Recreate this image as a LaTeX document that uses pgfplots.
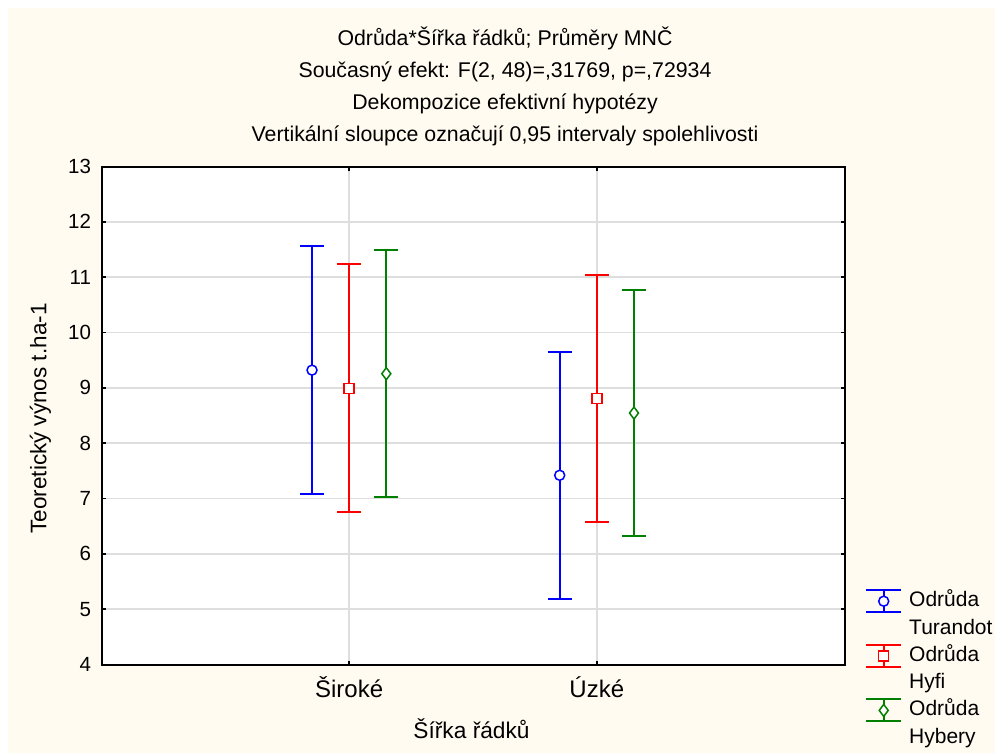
\documentclass[border=0pt]{standalone}
\usepackage{pgfplots}
\pgfplotsset{compat=1.18}
\usepackage{fontspec}
\setmainfont{Liberation Sans}
\definecolor{cream}{RGB}{255,251,240}
\definecolor{gridgray}{RGB}{222,222,222}
\definecolor{dgreen}{RGB}{0,128,0}
\begin{document}
\begin{tikzpicture}
\useasboundingbox (0bp,0bp) rectangle (995bp,-753bp);
\fill[white] (0bp,0bp) rectangle (995bp,-753bp);
\fill[cream] (8bp,-8bp) rectangle (995bp,-753bp);
\begin{scope}
\clip (0bp,0bp) rectangle (995bp,-753bp);
\begin{axis}[
  at={(101.5bp,-664.5bp)}, anchor=south west,
  scale only axis, width=743bp, height=498bp,
  xmin=0, xmax=3, ymin=4, ymax=13,
  xtick={1,2}, xticklabels={Široké,Úzké},
  ytick={4,5,...,13},
  axis background/.style={fill=white},
  axis line style={black, line width=2bp},
  grid=major, grid style={gridgray, line width=1.5bp},
  tick align=inside, major tick length=4bp,
  tick style={black, line width=1.5bp},
  /pgf/number format/assume math mode=true,
  yticklabel style={font=\fontsize{20.5bp}{24bp}\selectfont, anchor=east, xshift=-7bp},
  xticklabel style={font=\fontsize{24bp}{28bp}\selectfont, anchor=base, yshift=-32.5bp},
  xlabel={Šířka řádků},
  xlabel style={at={(axis description cs:0.498,0)}, anchor=base, yshift=-73.5bp, font=\fontsize{22.7bp}{26bp}\selectfont},
  ylabel={Teoretický výnos t.ha-1},
  ylabel style={at={(axis description cs:-0.0741,0.494)}, anchor=base, font=\fontsize{22.5bp}{26bp}\selectfont},
  legend style={draw=none, fill=none, at={(axis description cs:1.0276,0.1516)}, anchor=north west,
    inner xsep=0pt, inner ysep=0pt, row sep=3.3bp, column sep=5bp,
    font=\fontsize{21bp}{24bp}\selectfont,
    nodes={inner sep=2bp, text height=15.5bp, text depth=4.5bp}},
  legend cell align=left,
  legend image code/.code={
    \draw[mark=none, line width=2bp] (0bp,-11bp) -- (35bp,-11bp) (0bp,11bp) -- (35bp,11bp) (17.5bp,-11bp) -- (17.5bp,11bp);
    \draw plot[only marks] coordinates {(17.5bp,0bp)};
  },
]
\addplot[blue, only marks, mark=*, mark size=5bp, mark options={fill=white, draw=blue, line width=1.5bp},
  error bars/.cd, y dir=both, y explicit,
  error bar style={blue, line width=2bp},
  error mark options={rotate=90, blue, mark size=12bp, line width=2bp}]
  coordinates {(0.85,9.32) +- (0,2.235) (1.85,7.42) +- (0,2.23)};
\addlegendentry{Odrůda}
\addlegendimage{empty legend}
\addlegendentry{Turandot}
\addplot[red, only marks, mark=square*, mark size=5bp, mark options={fill=white, draw=red, line width=1.5bp},
  error bars/.cd, y dir=both, y explicit,
  error bar style={red, line width=2bp},
  error mark options={rotate=90, red, mark size=12bp, line width=2bp}]
  coordinates {(1,8.99) +- (0,2.24) (2,8.81) +- (0,2.23)};
\addlegendentry{Odrůda}
\addlegendimage{empty legend}
\addlegendentry{Hyfi}
\addplot[dgreen, only marks, mark=diamond*, mark size=6bp, mark options={fill=white, draw=dgreen, line width=1.5bp},
  error bars/.cd, y dir=both, y explicit,
  error bar style={dgreen, line width=2bp},
  error mark options={rotate=90, dgreen, mark size=12bp, line width=2bp}]
  coordinates {(1.15,9.255) +- (0,2.23) (2.15,8.545) +- (0,2.23)};
\addlegendentry{Odrůda}
\addlegendimage{empty legend}
\addlegendentry{Hybery}
\end{axis}
\end{scope}
\begin{scope}[every node/.style={font=\fontsize{21.3bp}{25bp}\selectfont, anchor=base}]
\node at (505bp,-45bp) {Odrůda*Šířka řádků; Průměry MNČ};
\node at (505bp,-77bp) {Současný efekt: F(2, 48)=,31769, p=,72934};
\node at (505bp,-109bp) {Dekompozice efektivní hypotézy};
\node at (505bp,-141bp) {Vertikální sloupce označují 0,95 intervaly spolehlivosti};
\end{scope}
\end{tikzpicture}
\end{document}
